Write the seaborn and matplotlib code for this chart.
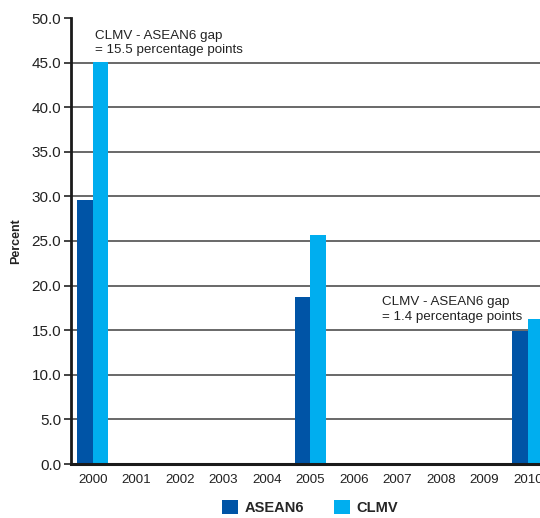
import numpy as np
import pandas as pd
import matplotlib
matplotlib.use("Agg")
import matplotlib.pyplot as plt
from matplotlib.patches import Patch
import seaborn as sns

# Poverty headcount by group (percent); surveys only in 2000, 2005 and 2010
years = [str(y) for y in range(2000, 2011)]
survey_years = ["2000", "2005", "2010"]
asean6 = [29.6, 18.7, 14.9]
clmv = [45.1, 25.7, 16.3]
groups = ["ASEAN6", "CLMV"]
colors = ["#0054A6", "#00AEEF"]
y_ticks = [0, 5, 10, 15, 20, 25, 30, 35, 40, 45, 50]

df = pd.DataFrame({
    "year": survey_years * 2,
    "group": ["ASEAN6"] * 3 + ["CLMV"] * 3,
    "value": asean6 + clmv,
})

sns.set_theme(style="white")
plt.rcParams["font.family"] = ["Liberation Sans", "DejaVu Sans"]

fig = plt.figure(figsize=(5.40, 5.18), dpi=100)
ax = fig.add_axes([71 / 540, 54 / 518, 478.5 / 540, 446 / 518])

sns.barplot(data=df, x="year", y="value", hue="group", order=years,
            hue_order=groups, palette=colors, width=0.71, saturation=1,
            ax=ax, legend=False, linewidth=0)

ax.set_xlim(-0.5, 10.5)
ax.set_ylim(0, 50)
ax.set_yticks(y_ticks)
ax.set_yticklabels([f"{v:.1f}" for v in y_ticks], fontsize=11, color="#222222")
ax.tick_params(axis="y", which="major", direction="out", length=5, width=1.2,
               color="#222222", pad=2, left=True)
ax.tick_params(axis="x", length=0, pad=7, labelsize=9.6, labelcolor="#222222")

# horizontal rules behind the bars
for v in y_ticks[1:-1]:
    ax.axhline(v, color="#404040", linewidth=1.1, zorder=0)

for side in ["top", "right"]:
    ax.spines[side].set_visible(False)
ax.spines["left"].set_linewidth(2)
ax.spines["left"].set_color("#1a1a1a")
ax.spines["bottom"].set_linewidth(2.2)
ax.spines["bottom"].set_color("#1a1a1a")

ax.set_xlabel("")
ax.set_ylabel("Percent", fontsize=9, fontweight="bold", color="#222222", labelpad=7)

ax.text(0.05, 48.7, "CLMV - ASEAN6 gap\n= 15.5 percentage points", fontsize=9.6,
        color="#222222", va="top", ha="left", linespacing=1.3)
ax.text(6.64, 18.8, "CLMV - ASEAN6 gap\n= 1.4 percentage points", fontsize=9.6,
        color="#222222", va="top", ha="left", linespacing=1.3)

handles = [Patch(facecolor=c, edgecolor="none", label=g) for g, c in zip(groups, colors)]
fig.legend(handles=handles, loc="upper center", bbox_to_anchor=(310 / 540, 1 - 500 / 518),
           ncol=2, frameon=False, handlelength=1.1, handleheight=1.1, borderpad=0,
           borderaxespad=0, handletextpad=0.5, columnspacing=2.0,
           prop={"weight": "bold", "size": 10.5})

fig.savefig("out.png", dpi=100)
